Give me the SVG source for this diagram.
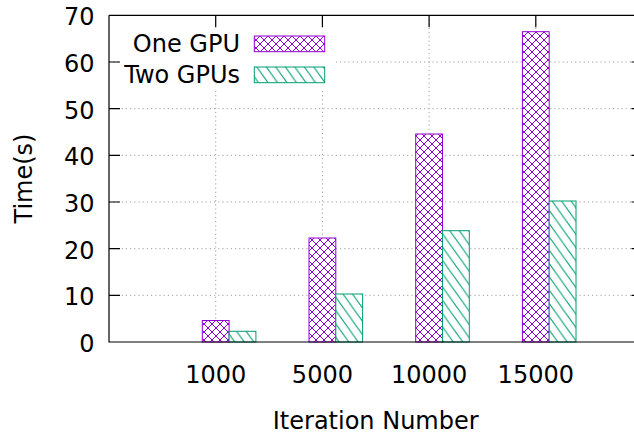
<svg xmlns="http://www.w3.org/2000/svg" width="634" height="434" viewBox="0 0 634 434">
  <style>
    text { font-family: "DejaVu Sans", Verdana, sans-serif; font-size: 24px; fill: #000; }
    .ylab { text-anchor: end; }
    .xlab { text-anchor: middle; }
    .grid { stroke: #a0a0a0; stroke-width: 1; stroke-dasharray: 1.2 3; fill: none; }
    .axis { stroke: #000; stroke-width: 1.2; fill: none; }
    .one { fill: url(#crosshatch); stroke: #9400d3; stroke-width: 1; }
    .two { fill: url(#hatch); stroke: #009e73; stroke-width: 1; }
  </style>
  <defs>
    <!-- cross-hatch fill on a white ground -->
    <pattern id="crosshatch" patternUnits="userSpaceOnUse" x="0" y="0" width="8" height="8">
      <rect width="8" height="8" fill="#fff"/>
      <path d="M-1,-1 L9,9 M-1,9 L9,-1" stroke="#9400d3" stroke-width="1" fill="none"/>
    </pattern>
    <!-- steep back-slash hatch on a white ground -->
    <pattern id="hatch" patternUnits="userSpaceOnUse" x="0" y="0" width="9.5" height="13.3">
      <rect width="9.5" height="13.3" fill="#fff"/>
      <path d="M-1,-1.4 L10.5,14.7 M-10.5,-1.4 L1,14.7 M8.5,-1.4 L20,14.7" stroke="#009e73" stroke-width="1" fill="none"/>
    </pattern>
  </defs>

  <rect width="634" height="434" fill="#fff"/>

  <!-- dotted grid -->
  <g id="grid">
    <path class="grid" d="M109,295.3 H642 M109,248.7 H642 M109,202 H642 M109,155.3 H642 M109,108.7 H642 M109,62 H642"/>
    <path class="grid" d="M215.7,15.3 V342 M322.4,15.3 V342 M429.1,15.3 V342 M535.8,15.3 V342"/>
  </g>

  <!-- key background -->
  <rect id="key-bg" x="121" y="24" width="215" height="64" fill="#fff"/>

  <!-- bars -->
  <g id="bars">
    <g id="bars-one-gpu">
      <rect class="one" x="202.3" y="320.5" width="26.8" height="21.5"/>
      <rect class="one" x="309" y="238" width="26.8" height="104"/>
      <rect class="one" x="415.7" y="134" width="26.8" height="208"/>
      <rect class="one" x="522.4" y="31.7" width="26.8" height="310.3"/>
    </g>
    <g id="bars-two-gpus">
      <rect class="two" x="229.1" y="331.3" width="26.8" height="10.7"/>
      <rect class="two" x="335.8" y="294" width="26.8" height="48"/>
      <rect class="two" x="442.5" y="230.7" width="26.8" height="111.3"/>
      <rect class="two" x="549.2" y="201" width="26.8" height="141"/>
    </g>
  </g>

  <!-- border and ticks -->
  <g id="axes">
    <path class="axis" d="M109,15.3 V342 H642.5 V15.3 H109"/>
    <path class="axis" d="M109,295.3 h11 M109,248.7 h11 M109,202 h11 M109,155.3 h11 M109,108.7 h11 M109,62 h11"/>
    <path class="axis" d="M642.5,295.3 h-11 M642.5,248.7 h-11 M642.5,202 h-11 M642.5,155.3 h-11 M642.5,108.7 h-11 M642.5,62 h-11"/>
    <path class="axis" d="M215.7,15.3 v12 M322.4,15.3 v12 M429.1,15.3 v12 M535.8,15.3 v12"/>
  </g>

  <!-- y tick labels -->
  <g id="y-ticks">
    <text class="ylab" x="94.5" y="352">0</text>
    <text class="ylab" x="94.5" y="305.3">10</text>
    <text class="ylab" x="94.5" y="258.7">20</text>
    <text class="ylab" x="94.5" y="212">30</text>
    <text class="ylab" x="94.5" y="165.3">40</text>
    <text class="ylab" x="94.5" y="118.7">50</text>
    <text class="ylab" x="94.5" y="72">60</text>
    <text class="ylab" x="94.5" y="25.3">70</text>
  </g>

  <!-- x tick labels -->
  <g id="x-ticks">
    <text class="xlab" x="215.7" y="383">1000</text>
    <text class="xlab" x="322.4" y="383">5000</text>
    <text class="xlab" x="429.1" y="383">10000</text>
    <text class="xlab" x="535.8" y="383">15000</text>
  </g>

  <!-- axis titles -->
  <text id="x-title" class="xlab" x="375.7" y="429">Iteration Number</text>
  <text id="y-title" class="xlab" transform="translate(32,178.5) rotate(-90)">Time(s)</text>

  <!-- key -->
  <g id="key">
    <g id="key-one-gpu">
      <text class="ylab" x="240" y="52">One GPU</text>
      <rect class="one" x="254.3" y="36" width="70.4" height="15.7"/>
    </g>
    <g id="key-two-gpus">
      <text class="ylab" x="240" y="83">Two GPUs</text>
      <rect class="two" x="254.3" y="67" width="70.4" height="15.7"/>
    </g>
  </g>
</svg>
